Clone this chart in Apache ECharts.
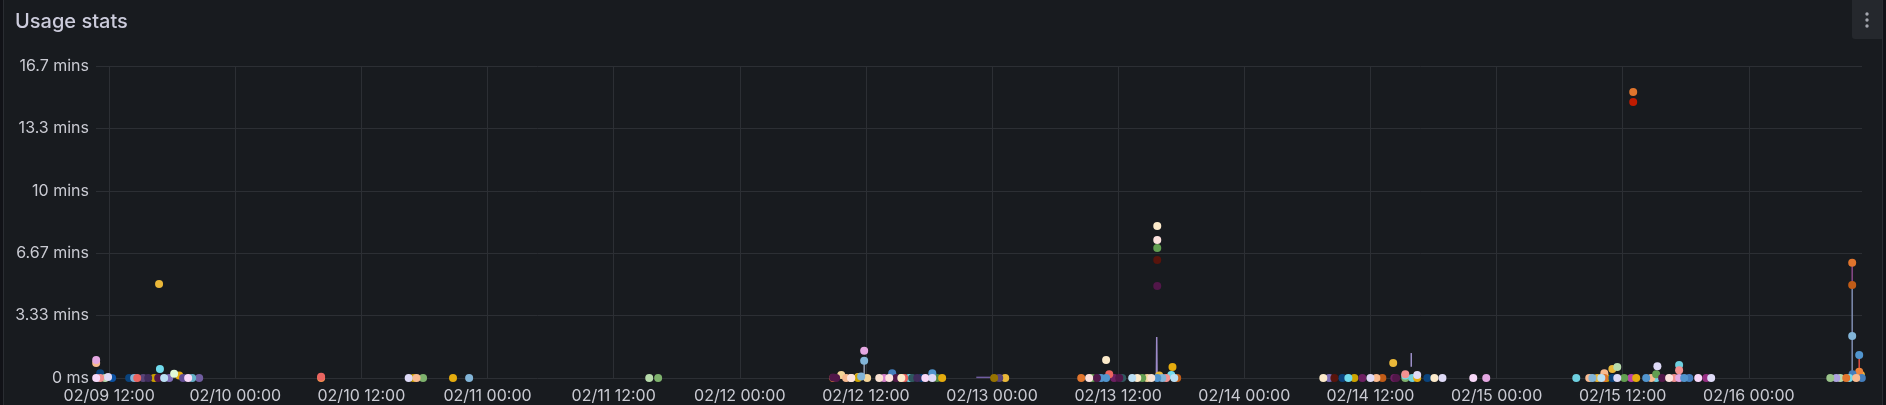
<!DOCTYPE html>
<html>
<head>
<meta charset="utf-8">
<script src="https://cdn.jsdelivr.net/npm/echarts@6/dist/echarts.min.js"></script>
<style>
  html, body { margin: 0; padding: 0; background: #111217; width: 1886px; height: 405px; overflow: hidden; }
  #panel { position: absolute; left: 3px; top: -1px; width: 1878px; height: 405px; background: #181b1f; border: 1px solid #2a2d32; }
  #chart { position: absolute; left: 0; top: 0; width: 1886px; height: 405px; }
</style>
</head>
<body>
<div id="panel"></div>
<div id="chart"></div>
<script>
// ---- axis ticks ----
const yTickLabels = ["0 ms", "3.33 mins", "6.67 mins", "10 mins", "13.3 mins", "16.7 mins"];
const xTickLabels = ["02/09 12:00","02/10 00:00","02/10 12:00","02/11 00:00","02/11 12:00","02/12 00:00","02/12 12:00","02/13 00:00","02/13 12:00","02/14 00:00","02/14 12:00","02/15 00:00","02/15 12:00","02/16 00:00"];
const timeRange = ["02-09 10:45", "02-16 10:46"];
const timeOrigin = "02-09 00:00";

// ---- point series (time, seconds) ----
const p00 = [["02-10 17:52",0],["02-11 16:14",0],["02-14 15:19",0]];
const p01 = [["02-09 16:45",301],["02-12 11:15",3],["02-13 01:15",0],["02-13 15:54",8],["02-14 14:10",48],["02-15 09:35",0],["02-15 11:01",29],["02-16 10:40",10]];
const p02 = [["02-09 10:57",0],["02-14 15:59",0],["02-15 07:35",0],["02-15 15:11",0],["02-15 17:22",42]];
const p03 = [["02-12 08:53",0],["02-16 10:30",20]];
const p06 = [["02-15 12:49",0]];
const p07 = [["02-09 20:34",0]];
const p08 = [["02-12 18:47",0]];
const p09 = [["02-09 16:17",0],["02-10 16:58",0],["02-12 11:15",0],["02-14 10:28",0],["02-15 10:27",0]];
const p10 = [["02-12 14:30",15],["02-15 18:20",0],["02-16 09:52",12],["02-16 10:45",0]];
const p11 = [["02-13 17:37",0],["02-14 13:08",0],["02-16 09:50",298]];
const p13 = [["02-09 11:09",15],["02-09 13:54",0],["02-12 17:16",0],["02-14 09:20",0],["02-14 17:25",0],["02-15 11:01",0]];
const p14 = [["02-13 11:37",0],["02-14 11:14",0],["02-14 14:16",0]];
const p15 = [["02-09 15:14",0],["02-13 00:41",0]];
const p16 = [["02-09 11:37",0],["02-11 15:23",0],["02-15 11:29",35],["02-16 08:42",0]];
const p17 = [["02-12 09:39",10],["02-12 12:07",0],["02-13 14:46",0]];
const p18 = [["02-09 16:50",29],["02-12 16:07",0],["02-13 17:03",10],["02-14 09:54",0],["02-14 15:19",8],["02-16 09:33",0]];
const p19 = [["02-09 10:46",48],["02-10 17:15",0],["02-12 10:07",0],["02-14 12:34",0],["02-15 08:49",0],["02-15 10:15",15],["02-15 14:43",0],["02-16 10:13",0]];
const p20 = [["02-09 11:09",0],["02-13 16:34",0],["02-14 15:19",12],["02-15 16:54",0],["02-15 17:22",25]];
const p21 = [["02-09 14:23",0],["02-10 22:15",0],["02-12 11:33",5],["02-12 11:50",55],["02-13 16:12",0],["02-15 09:07",0],["02-16 09:50",135]];
const p22 = [["02-09 10:46",58],["02-12 11:50",87],["02-14 23:01",0],["02-15 17:22",0]];
const p23 = [["02-16 08:19",0]];
const p24 = [["02-13 09:32",0],["02-13 14:17",0],["02-13 15:43",417],["02-15 12:09",0],["02-15 15:11",12]];
const p25 = [["02-09 18:40",8],["02-10 20:43",0],["02-12 15:22",0],["02-12 19:15",0],["02-13 17:10",35],["02-14 16:27",0],["02-15 13:17",0]];
const p26 = [["02-09 19:54",0]];
const p27 = [["02-13 08:29",0],["02-15 10:15",0],["02-15 13:00",917],["02-16 09:16",0],["02-16 09:50",369]];
const p28 = [["02-15 13:00",885]];
const p29 = [["02-09 12:17",0]];
const p30 = [["02-15 19:57",0]];
const p31 = [["02-09 19:02",0]];
const p32 = [["02-16 07:45",0]];
const p35 = [["02-10 08:10",0]];
const p36 = [["02-09 14:40",0],["02-10 08:10",4],["02-12 15:39",0],["02-13 11:09",12]];
const p37 = [["02-12 18:19",15],["02-13 10:22",0],["02-13 10:51",0],["02-13 15:43",0],["02-15 14:14",0],["02-15 17:51",0],["02-16 10:30",74]];
const p38 = [["02-12 13:44",0]];
const p39 = [["02-09 17:43",0],["02-14 08:05",0]];
const p41 = [["02-13 00:12",0]];
const p42 = [["02-12 16:24",0],["02-13 12:23",0]];
const p44 = [["02-13 15:43",378],["02-14 08:34",0]];
const p46 = [["02-09 16:40",0],["02-12 08:53",2],["02-12 09:10",0],["02-12 14:53",0],["02-13 09:59",0],["02-13 12:06",0],["02-13 15:43",295],["02-14 14:27",0],["02-15 15:45",0]];
const p47 = [["02-09 15:43",0],["02-12 16:53",0]];
const p48 = [["02-09 18:11",14]];
const p49 = [["02-12 10:36",0],["02-12 15:22",0],["02-13 10:51",58],["02-13 13:49",0],["02-13 15:43",487],["02-14 07:31",0],["02-14 18:05",0]];
const p51 = [["02-12 13:16",0],["02-13 15:09",0]];
const p52 = [["02-12 10:36",0],["02-12 14:13",0],["02-13 09:14",0],["02-13 15:43",442],["02-15 16:25",0]];
const p53 = [["02-09 17:14",0],["02-13 13:20",0],["02-13 17:20",0],["02-15 09:58",0]];
const p54 = [["02-09 10:46",0],["02-09 19:31",0],["02-12 17:39",0],["02-14 21:47",0],["02-15 19:11",0]];
const p55 = [["02-09 11:54",3],["02-10 16:30",0],["02-12 18:19",0],["02-14 12:00",0],["02-14 16:27",10],["02-14 18:51",0],["02-15 11:29",0],["02-15 15:18",38],["02-15 20:25",0]];

// ---- line segments (time, seconds) ----
const lineA = [["02-12 22:30",2],["02-13 00:20",2]];
const lineB = [["02-13 15:38",0],["02-13 15:40",131],["02-13 15:42",0]];
const lineC = [["02-14 15:53",36],["02-14 15:53",80]];
const lineD = [["02-16 09:50",0],["02-16 09:50",298]];
const lineE = [["02-16 09:50",298],["02-16 09:50",369]];
const lineF = [["02-12 11:50",5],["02-12 11:50",55]];
const lineG = [["02-16 10:30",5],["02-16 10:30",74]];

// ---- styles ----
const pointSets = [p00,p01,p02,p03,p06,p07,p08,p09,p10,p11,p13,p14,p15,p16,p17,p18,p19,p20,p21,p22,p23,p24,p25,p26,p27,p28,p29,p30,p31,p32,p35,p36,p37,p38,p39,p41,p42,p44,p46,p47,p48,p49,p51,p52,p53,p54,p55];
const pointColors = ["#7EB26D","#EAB839","#6ED0E0","#EF843C","#BA43A9","#705DA0","#508642","#CCA300","#447EBC","#C15C17","#0A437C","#6D1F62","#584477","#B7DBAB","#F4D598","#70DBED","#F9BA8F","#F29191","#82B5D8","#E5A8E2","#AEA2E0","#629E51","#E5AC0E","#64B0C8","#E0752D","#BF1B00","#0A50A1","#962D82","#614D93","#9AC48A","#F9934E","#EA6460","#5195CE","#D683CE","#806EB7","#967302","#2F575E","#58140C","#511749","#3F2B5B","#E0F9D7","#FCEACA","#F9E2D2","#FCE2DE","#BADFF4","#F9D9F9","#DEDAF7"];
const lineSets = [lineA, lineB, lineC, lineD, lineE, lineF, lineG];
const lineColors = ["#705DA0", "#9C8AC8", "#9C8FC8", "#7F8DB0", "#8A4A8A", "#8E9AAE", "#E24D42"];

function ts(s) {
  const [md, hm] = s.split(" ");
  const [M, D] = md.split("-").map(Number);
  const [h, m] = hm.split(":").map(Number);
  return new Date(2025, M - 1, D, h, m).getTime();
}
const T0 = ts(timeOrigin);
// hours since origin (local time)
function hrs(s) { return (ts(s) - T0) / 3600000; }
const xTickValues = xTickLabels.map(l => hrs(l.replace("/", "-")));

const series = [];
lineSets.forEach((set, i) => {
  series.push({
    type: "line", name: "line" + i, data: set.map(p => [hrs(p[0]), p[1]]),
    showSymbol: false, symbol: "none", lineStyle: { color: lineColors[i], width: 1.5 },
    silent: true, animation: false, clip: false, z: 1
  });
});
pointSets.forEach((set, i) => {
  series.push({
    type: "scatter", name: "s" + i, data: set.map(p => [hrs(p[0]), p[1]]),
    symbolSize: 8, itemStyle: { color: pointColors[i], opacity: 1 },
    animation: false, clip: false, z: 2
  });
});

const chart = echarts.init(document.getElementById("chart"), null, { renderer: "canvas" });
const FONT = "Inter, 'Noto Sans', sans-serif";
chart.setOption({
  backgroundColor: "transparent",
  animation: false,
  textStyle: { fontFamily: FONT },
  title: {
    text: "Usage stats", left: 10, top: 7,
    textStyle: { color: "#ccccdc", fontSize: 20, fontWeight: 500, fontFamily: FONT }
  },
  grid: { left: 96, right: 24, top: 66, bottom: 27, containLabel: false },
  xAxis: {
    type: "value",
    min: hrs(timeRange[0]), max: hrs(timeRange[1]),
    axisLine: { show: false },
    axisTick: { show: false, customValues: xTickValues },
    splitLine: { show: true, lineStyle: { color: "#2c2f34", width: 1 } },
    axisLabel: {
      customValues: xTickValues,
      formatter: v => { const i = xTickValues.findIndex(t => Math.abs(t - v) < 1e-6); return i >= 0 ? xTickLabels[i] : ""; },
      color: "#c9cad2", fontSize: 16, margin: 10, fontFamily: FONT, hideOverlap: false
    }
  },
  yAxis: {
    type: "value", min: 0, max: 1000, interval: 200,
    axisLine: { show: false }, axisTick: { show: false },
    splitLine: { show: true, lineStyle: { color: "#2c2f34", width: 1 } },
    axisLabel: {
      formatter: v => yTickLabels[Math.round(v / 200)],
      color: "#c9cad2", fontSize: 16, margin: 7, fontFamily: FONT
    }
  },
  graphic: [
    { type: "rect", left: 1852, top: 0, shape: { width: 30, height: 39, r: [0, 0, 0, 3] }, style: { fill: "#25282d" }, z: 10 },
    { type: "circle", x: 1867, y: 14, shape: { r: 1.7 }, style: { fill: "#a4a6ae" }, z: 11 },
    { type: "circle", x: 1867, y: 20, shape: { r: 1.7 }, style: { fill: "#a4a6ae" }, z: 11 },
    { type: "circle", x: 1867, y: 26, shape: { r: 1.7 }, style: { fill: "#a4a6ae" }, z: 11 }
  ],
  series: series
});
</script>
</body>
</html>
